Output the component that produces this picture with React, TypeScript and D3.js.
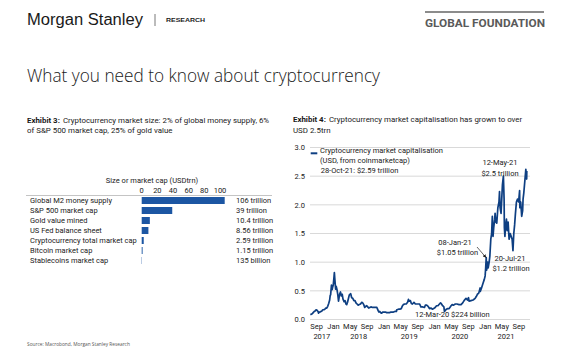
import React from "react";
import * as d3 from "d3";

// ---------- Exhibit 3 data ----------
const barCategories = [
  "Global M2 money supply",
  "S&P 500 market cap",
  "Gold value mined",
  "US Fed balance sheet",
  "Cryptocurrency total market cap",
  "Bitcoin market cap",
  "Stablecoins market cap",
];
const barValues = [106, 39, 10.4, 8.56, 2.59, 1.15, 0.135];
const barValueLabels = [
  "106 trillion",
  "39 trillion",
  "10.4 trillion",
  "8.56 trillion",
  "2.59 trillion",
  "1.15 trillion",
  "135 billion",
];
const barTicks = [0, 20, 40, 60, 80, 100];

// ---------- Exhibit 4 data (USD trillion) ----------
const marketCapSeries: [string, number][] = [
  ["2017-07-17", 0.09], ["2017-07-24", 0.09], ["2017-07-31", 0.1], ["2017-08-07", 0.12],
  ["2017-08-14", 0.14], ["2017-08-21", 0.15], ["2017-08-28", 0.17], ["2017-09-04", 0.16],
  ["2017-09-11", 0.14], ["2017-09-15", 0.11], ["2017-09-18", 0.13], ["2017-09-25", 0.13],
  ["2017-10-02", 0.14], ["2017-10-09", 0.15], ["2017-10-16", 0.17], ["2017-10-23", 0.17],
  ["2017-10-30", 0.18], ["2017-11-06", 0.2], ["2017-11-13", 0.2], ["2017-11-20", 0.23],
  ["2017-11-27", 0.28], ["2017-12-04", 0.34], ["2017-12-08", 0.42], ["2017-12-11", 0.43],
  ["2017-12-17", 0.6], ["2017-12-22", 0.52], ["2017-12-25", 0.56], ["2017-12-30", 0.6],
  ["2018-01-04", 0.73], ["2018-01-07", 0.82], ["2018-01-10", 0.72], ["2018-01-16", 0.53],
  ["2018-01-20", 0.58], ["2018-01-26", 0.52], ["2018-02-01", 0.43], ["2018-02-06", 0.32],
  ["2018-02-10", 0.38], ["2018-02-15", 0.45], ["2018-02-20", 0.48], ["2018-02-27", 0.41],
  ["2018-03-05", 0.44], ["2018-03-10", 0.36], ["2018-03-18", 0.31], ["2018-03-25", 0.33],
  ["2018-04-01", 0.27], ["2018-04-06", 0.26], ["2018-04-12", 0.3], ["2018-04-20", 0.38],
  ["2018-04-25", 0.43], ["2018-05-05", 0.45], ["2018-05-12", 0.38], ["2018-05-20", 0.37],
  ["2018-05-28", 0.33], ["2018-06-05", 0.33], ["2018-06-12", 0.29], ["2018-06-20", 0.27],
  ["2018-06-28", 0.25], ["2018-07-06", 0.26], ["2018-07-15", 0.27], ["2018-07-24", 0.3],
  ["2018-07-31", 0.29], ["2018-08-07", 0.26], ["2018-08-14", 0.21], ["2018-08-22", 0.23],
  ["2018-08-29", 0.24], ["2018-09-05", 0.22], ["2018-09-12", 0.2], ["2018-09-20", 0.21],
  ["2018-09-28", 0.22], ["2018-10-10", 0.21], ["2018-10-20", 0.21], ["2018-10-30", 0.21],
  ["2018-11-10", 0.21], ["2018-11-15", 0.18], ["2018-11-20", 0.15], ["2018-11-25", 0.13],
  ["2018-12-01", 0.14], ["2018-12-07", 0.12], ["2018-12-15", 0.11], ["2018-12-22", 0.13],
  ["2018-12-30", 0.13], ["2019-01-10", 0.13], ["2019-01-20", 0.12], ["2019-01-31", 0.12],
  ["2019-02-10", 0.12], ["2019-02-20", 0.13], ["2019-02-28", 0.13], ["2019-03-10", 0.13],
  ["2019-03-20", 0.14], ["2019-03-31", 0.14], ["2019-04-03", 0.17], ["2019-04-15", 0.18],
  ["2019-04-25", 0.18], ["2019-05-05", 0.19], ["2019-05-12", 0.23], ["2019-05-20", 0.26],
  ["2019-05-30", 0.27], ["2019-06-10", 0.27], ["2019-06-20", 0.3], ["2019-06-26", 0.35],
  ["2019-07-01", 0.32], ["2019-07-10", 0.33], ["2019-07-17", 0.28], ["2019-07-25", 0.27],
  ["2019-08-05", 0.3], ["2019-08-15", 0.27], ["2019-08-25", 0.27], ["2019-09-05", 0.27],
  ["2019-09-15", 0.27], ["2019-09-24", 0.22], ["2019-10-05", 0.22], ["2019-10-20", 0.21],
  ["2019-10-26", 0.25], ["2019-11-05", 0.25], ["2019-11-15", 0.23], ["2019-11-25", 0.19],
  ["2019-12-05", 0.2], ["2019-12-17", 0.18], ["2019-12-25", 0.19], ["2020-01-05", 0.21],
  ["2020-01-15", 0.24], ["2020-01-25", 0.24], ["2020-02-05", 0.27], ["2020-02-13", 0.29],
  ["2020-02-20", 0.27], ["2020-02-28", 0.24], ["2020-03-08", 0.22], ["2020-03-12", 0.14],
  ["2020-03-16", 0.15], ["2020-03-25", 0.18], ["2020-04-05", 0.19], ["2020-04-15", 0.19],
  ["2020-04-29", 0.24], ["2020-05-07", 0.26], ["2020-05-15", 0.25], ["2020-05-30", 0.27],
  ["2020-06-10", 0.27], ["2020-06-25", 0.26], ["2020-07-10", 0.26], ["2020-07-22", 0.29],
  ["2020-08-01", 0.33], ["2020-08-15", 0.37], ["2020-08-25", 0.34], ["2020-09-02", 0.38],
  ["2020-09-06", 0.32], ["2020-09-20", 0.33], ["2020-10-05", 0.34], ["2020-10-20", 0.37],
  ["2020-10-28", 0.4], ["2020-11-05", 0.44], ["2020-11-15", 0.46], ["2020-11-25", 0.55],
  ["2020-11-26", 0.49], ["2020-12-05", 0.55], ["2020-12-17", 0.64], ["2020-12-25", 0.7],
  ["2020-12-31", 0.76], ["2021-01-04", 0.9], ["2021-01-08", 1.08], ["2021-01-11", 0.86],
  ["2021-01-18", 1.0], ["2021-01-22", 0.9], ["2021-01-29", 1.0], ["2021-02-03", 1.1],
  ["2021-02-10", 1.4], ["2021-02-16", 1.5], ["2021-02-21", 1.8], ["2021-02-26", 1.45],
  ["2021-03-03", 1.6], ["2021-03-10", 1.75], ["2021-03-13", 1.85], ["2021-03-18", 1.7],
  ["2021-03-25", 1.68], ["2021-04-02", 1.95], ["2021-04-10", 2.05], ["2021-04-14", 2.23],
  ["2021-04-18", 1.95], ["2021-04-25", 1.85], ["2021-04-30", 2.1], ["2021-05-05", 2.35],
  ["2021-05-12", 2.5], ["2021-05-17", 2.1], ["2021-05-19", 1.6], ["2021-05-23", 1.45],
  ["2021-05-28", 1.65], ["2021-06-03", 1.75], ["2021-06-08", 1.55], ["2021-06-15", 1.7],
  ["2021-06-22", 1.4], ["2021-06-30", 1.5], ["2021-07-07", 1.45], ["2021-07-14", 1.4],
  ["2021-07-20", 1.2], ["2021-07-26", 1.5], ["2021-08-01", 1.65], ["2021-08-07", 1.85],
  ["2021-08-14", 2.05], ["2021-08-22", 2.1], ["2021-08-30", 2.05], ["2021-09-06", 2.25],
  ["2021-09-08", 1.95], ["2021-09-14", 2.05], ["2021-09-21", 1.8], ["2021-09-28", 1.9],
  ["2021-10-01", 2.1], ["2021-10-06", 2.2], ["2021-10-15", 2.45], ["2021-10-21", 2.62],
  ["2021-10-27", 2.45], ["2021-10-28", 2.59],
];
const yTicks = [0, 0.5, 1, 1.5, 2, 2.5, 3];
const yearLabels = [2017, 2018, 2019, 2020, 2021];

const parse = d3.timeParse("%Y-%m-%d");
const FONT = "Roboto, 'Liberation Sans', sans-serif";

export default function App() {
  // Bar chart scales
  const xBar = d3.scaleLinear().domain([0, 100]).range([141.7, 220]);
  const yBar = d3
    .scaleBand<string>()
    .domain(barCategories)
    .range([195.5, 265.5])
    .paddingInner(0.3)
    .paddingOuter(0.15);

  // Line chart scales
  const series = marketCapSeries.map(([d, v]) => ({ date: parse(d) as Date, value: v }));
  const x = d3
    .scaleTime()
    .domain([parse("2017-07-15") as Date, parse("2021-11-10") as Date])
    .range([310, 528.6]);
  const y = d3.scaleLinear().domain([0, 3]).range([319.5, 147.5]);
  const line = d3
    .line<{ date: Date; value: number }>()
    .x((d) => x(d.date))
    .y((d) => y(d.value))
    .curve(d3.curveLinear);
  const monthTicks = d3.timeMonth
    .every(4)!
    .range(parse("2017-09-01") as Date, parse("2021-10-01") as Date);
  const monthFmt = d3.timeFormat("%b");
  const dataStart = series[0].date;
  const dataEnd = series[series.length - 1].date;

  return (
    <svg
      width={566}
      height={350}
      style={{ position: "absolute", left: 0, top: 0, background: "#fff" }}
      fontFamily={FONT}
    >
      <defs>
        <marker id="arr" viewBox="0 0 10 10" refX="9" refY="5" markerWidth="5" markerHeight="5" orient="auto">
          <path d="M0,0 L10,5 L0,10 z" fill="#222" />
        </marker>
      </defs>
      <rect width={566} height={350} fill="#fff" />

      {/* Header */}
      <text x={27} y={25} fontFamily="'Liberation Sans', Arial, sans-serif" fontSize={16} fill="#1a1a1a" textLength={116} lengthAdjust="spacingAndGlyphs">
        Morgan Stanley
      </text>
      <line x1={155} x2={155} y1={14} y2={26} stroke="#555" strokeWidth={0.8} />
      <text x={166} y={21.5} fontFamily="'Liberation Sans', Arial, sans-serif" fontWeight={700} fontSize={6} fill="#222" textLength={39} lengthAdjust="spacingAndGlyphs">
        RESEARCH
      </text>
      <line x1={425} x2={544} y1={12} y2={12} stroke="#666" strokeWidth={1.5} />
      <text x={425} y={26.7} fontFamily={FONT} fontWeight={700} fontSize={11.6} fill="#5a5a5a" textLength={120} lengthAdjust="spacingAndGlyphs">
        GLOBAL FOUNDATION
      </text>

      {/* Title */}
      <text x={27} y={82} fontFamily="'Open Sans', sans-serif" fontWeight={300} fontSize={18.5} fill="#1a1a1a" textLength={353} lengthAdjust="spacingAndGlyphs">
        What you need to know about cryptocurrency
      </text>

      {/* Exhibit 3 */}
      <text x={27} y={122.5} fontSize={7.9} fill="#1a1a1a">
        <tspan fontWeight={700}>Exhibit 3:</tspan>
        <tspan dx={3}>Cryptocurrency market size: 2% of global money supply, 6%</tspan>
      </text>
      <text x={27} y={132.8} fontSize={7.9} fill="#1a1a1a">
        of S&amp;P 500 market cap, 25% of gold value
      </text>
      <text x={152} y={182.6} fontSize={7.5} fill="#1a1a1a" textAnchor="middle">
        Size or market cap (USDtrn)
      </text>
      {barTicks.map((t) => (
        <text key={t} x={xBar(t)} y={193.3} fontSize={7.5} fill="#1a1a1a" textAnchor="middle">
          {t}
        </text>
      ))}
      <line x1={26} x2={272} y1={195.5} y2={195.5} stroke="#b5b5b5" strokeWidth={0.8} />
      {barCategories.map((c, i) => {
        const cy = (yBar(c) as number) + yBar.bandwidth() / 2;
        return (
          <g key={c}>
            <text x={30} y={cy + 2.7} fontSize={7.5} fill="#1a1a1a">
              {c}
            </text>
            <rect x={xBar(0)} y={yBar(c)} width={Math.max(0.3, xBar(barValues[i]) - xBar(0))} height={yBar.bandwidth()} fill="#1c56a3" />
            <text x={236} y={cy + 2.7} fontSize={7.5} fill="#1a1a1a">
              {barValueLabels[i]}
            </text>
          </g>
        );
      })}

      {/* Exhibit 4 */}
      <text x={293} y={122} fontSize={7.9} fill="#1a1a1a">
        <tspan fontWeight={700}>Exhibit 4:</tspan>
        <tspan dx={3}>Cryptocurrency market capitalisation has grown to over</tspan>
      </text>
      <text x={293} y={132.6} fontSize={7.9} fill="#1a1a1a">
        USD 2.5trn
      </text>

      {yTicks.map((t) => (
        <g key={t}>
          <line x1={310} x2={530} y1={y(t)} y2={y(t)} stroke="#cfcfcf" strokeWidth={0.8} />
          <text x={305} y={y(t) + 2.7} fontSize={7.5} fill="#1a1a1a" textAnchor="end">
            {t.toFixed(1)}
          </text>
        </g>
      ))}
      {monthTicks.map((m) => (
        <text key={+m} x={x(m)} y={328.7} fontSize={7.5} fill="#1a1a1a" textAnchor="middle">
          {monthFmt(m)}
        </text>
      ))}
      {yearLabels.map((yr) => {
        const s = Math.max(+new Date(yr, 0, 1), +dataStart);
        const e = Math.min(+new Date(yr, 11, 31), +dataEnd);
        return (
          <text key={yr} x={(x(new Date(s)) + x(new Date(e))) / 2} y={339.2} fontSize={7.5} fill="#1a1a1a" textAnchor="middle">
            {yr}
          </text>
        );
      })}

      <path d={line(series) || ""} fill="none" stroke="#0e3f82" strokeWidth={1.7} strokeLinejoin="round" />

      {/* Legend */}
      <line x1={310.7} x2={317.3} y1={153.3} y2={153.3} stroke="#0e3f82" strokeWidth={2} />
      <text x={320} y={152.5} fontSize={7.5} fill="#1a1a1a" textLength={123} lengthAdjust="spacingAndGlyphs">Cryptocurrency market capitalisation</text>
      <text x={320} y={162.5} fontSize={7.5} fill="#1a1a1a">(USD, from coinmarketcap)</text>
      <text x={320.7} y={173} fontSize={7.5} fill="#1a1a1a">28-Oct-21: $2.59 trillion</text>

      {/* Annotations */}
      <text x={500} y={164.5} fontSize={7.5} fill="#1a1a1a" textAnchor="middle">12-May-21</text>
      <text x={500} y={175.5} fontSize={7.5} fill="#1a1a1a" textAnchor="middle">$2.5 trillion</text>
      <text x={455} y={244.5} fontSize={7.5} fill="#1a1a1a" textAnchor="middle">08-Jan-21</text>
      <text x={457.5} y={254.5} fontSize={7.5} fill="#1a1a1a" textAnchor="middle">$1.05 trillion</text>
      <line x1={477} y1={247} x2={486} y2={257.5} stroke="#222" strokeWidth={0.7} markerEnd="url(#arr)" />
      <text x={510} y={261} fontSize={7.5} fill="#1a1a1a" textAnchor="middle">20-Jul-21</text>
      <text x={511} y={270.5} fontSize={7.5} fill="#1a1a1a" textAnchor="middle">$1.2 trillion</text>
      <text x={415} y={317} fontSize={7.5} fill="#1a1a1a">12-Mar-20 $224 billion</text>

      {/* Source */}
      <text x={27} y={345.5} fontFamily="'Open Sans', sans-serif" fontSize={4.8} fill="#555">
        Source: Macrobond, Morgan Stanley Research
      </text>
    </svg>
  );
}
